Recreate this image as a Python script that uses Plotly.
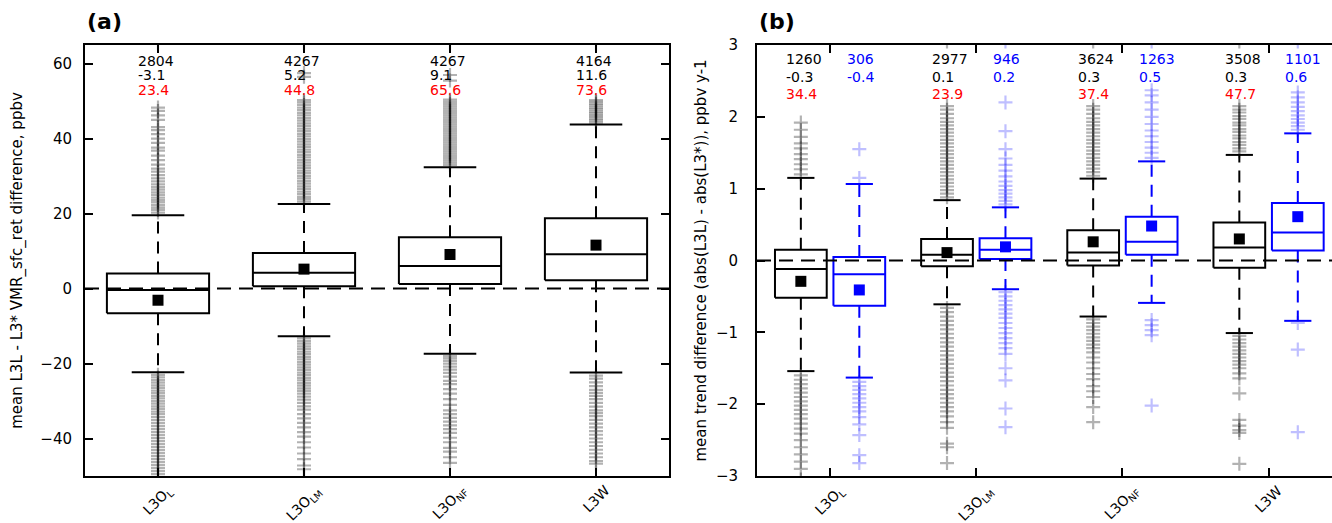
import plotly.graph_objects as go

# ---------------- data ----------------
categories = ["L3O<sub>L</sub>", "L3O<sub>LM</sub>", "L3O<sub>NF</sub>", "L3W"]
cat_pos = [1, 2, 3, 4]

# panel (a): L3L - L3* VMR_sfc_ret difference, ppbv
a_q1 = [-6.6, 0.6, 1.2, 2.2]
a_med = [-0.4, 4.2, 6.0, 9.2]
a_q3 = [4.0, 9.5, 13.7, 18.8]
a_lo = [-22.3, -12.7, -17.4, -22.4]
a_hi = [19.6, 22.6, 32.4, 43.8]
a_mean = [-3.1, 5.2, 9.1, 11.6]
a_n = [2804, 4267, 4267, 4164]
a_rms = [23.4, 44.8, 65.6, 73.6]
a_out_1 = [20.3, 21.0, 21.6, 22.3, 23.0, 23.6, 24.3, 25.0, 25.7, 26.4, 27.1, 27.8, 28.6, 29.4,
           30.3, 31.2, 32.0, 33.1, 34.3, 35.5, 36.8, 37.6, 38.9, 40.0, 41.2, 42.3, 43.1, 45.0,
           46.2, 47.4, 48.3, 65.5,
           -23.0, -23.7, -24.4, -25.1, -25.8, -26.5, -27.2, -27.9, -28.6, -29.3, -30.0, -30.7,
           -31.4, -32.1, -32.8, -33.5, -34.3, -35.1, -35.9, -36.7, -37.5, -38.3, -39.1, -39.9,
           -40.7, -41.5, -42.3, -43.1, -43.9, -44.7, -45.5, -46.3, -47.1, -47.9, -48.7, -49.5, -50.3]
a_out_2 = [23.2, 23.9, 24.5, 25.2, 25.9, 26.6, 27.3, 28.0, 28.7, 29.4, 30.1, 30.8, 31.5, 32.2,
           32.9, 33.6, 34.3, 35.0, 35.7, 36.4, 37.1, 37.8, 38.5, 39.2, 39.9, 40.6, 41.3, 42.0,
           42.7, 43.4, 44.1, 44.8, 45.5, 46.2, 46.9, 47.6, 48.3, 49.0, 49.7, 50.3, 56.5, 57.5, 65.5,
           -13.3, -14.0, -14.7, -15.4, -16.1, -16.8, -17.5, -18.2, -18.9, -19.6, -20.3, -21.0,
           -21.7, -22.4, -23.1, -23.8, -24.5, -25.2, -25.9, -26.6, -27.3, -28.0, -28.8, -29.6,
           -30.5, -31.4, -32.3, -33.5, -34.6, -35.8, -37.0, -38.3, -39.5, -41.0, -42.4, -44.0,
           -45.5, -47.2, -48.2, -50.3]
a_out_3 = [33.0, 33.6, 34.2, 34.8, 35.4, 36.0, 36.6, 37.2, 37.8, 38.4, 39.0, 39.6, 40.2, 40.8,
           41.4, 42.0, 42.6, 43.2, 43.8, 44.4, 45.0, 45.6, 46.2, 46.8, 47.4, 48.0, 48.6, 49.2,
           49.8, 50.4, 55.5, 57.0, 65.5,
           -18.0, -18.6, -19.3, -20.0, -20.8, -21.6, -22.5, -23.5, -24.6, -25.5, -26.8, -28.0,
           -29.5, -31.0, -32.5, -33.5, -34.5, -35.5, -36.5, -37.5, -38.5, -39.8, -41.0, -42.5,
           -43.5, -45.0, -46.5]
a_out_4 = [44.3, 44.8, 45.3, 45.8, 46.3, 46.8, 47.3, 47.8, 48.3, 48.8, 49.3, 49.8, 50.3, 65.5,
           -23.2, -24.0, -25.0, -26.0, -27.0, -27.8, -28.6, -29.5, -30.5, -31.5, -32.5, -33.2,
           -34.0, -35.0, -36.0, -37.0, -38.0, -39.0, -40.0, -41.0, -42.0, -43.0, -44.0, -45.0,
           -46.0, -46.7]
a_out = [a_out_1, a_out_2, a_out_3, a_out_4]

# panel (b): trend difference, black and blue groups
k_q1 = [-0.52, -0.08, -0.07, -0.10]
k_med = [-0.12, 0.08, 0.11, 0.18]
k_q3 = [0.15, 0.30, 0.42, 0.53]
k_lo = [-1.54, -0.61, -0.78, -1.01]
k_hi = [1.15, 0.84, 1.14, 1.47]
k_mean = [-0.29, 0.11, 0.26, 0.30]
k_n = [1260, 2977, 3624, 3508]
k_rms = [34.4, 23.9, 37.4, 47.7]

u_q1 = [-0.63, 0.02, 0.08, 0.14]
u_med = [-0.19, 0.15, 0.26, 0.39]
u_q3 = [0.05, 0.31, 0.61, 0.80]
u_lo = [-1.63, -0.40, -0.59, -0.84]
u_hi = [1.065, 0.74, 1.38, 1.77]
u_mean = [-0.41, 0.19, 0.48, 0.61]
u_n = [306, 946, 1263, 1101]

k_out_1 = [1.2, 1.27, 1.34, 1.41, 1.48, 1.56, 1.63, 1.72, 1.82, 1.92,
           -1.6, -1.66, -1.72, -1.78, -1.84, -1.9, -1.96, -2.02, -2.08, -2.14, -2.2, -2.27,
           -2.34, -2.41, -2.5, -2.6, -2.7, -2.8, -2.9, -3.05]
k_out_2 = [0.88, 0.93, 0.98, 1.03, 1.08, 1.13, 1.18, 1.23, 1.28, 1.33, 1.38, 1.43, 1.48, 1.53,
           1.58, 1.63, 1.68, 1.73, 1.78, 1.83, 1.88, 1.93, 1.98, 2.04, 2.1, 2.15, 3.05,
           -0.66, -0.72, -0.78, -0.84, -0.9, -0.96, -1.02, -1.08, -1.14, -1.2, -1.26, -1.32,
           -1.38, -1.44, -1.5, -1.56, -1.62, -1.68, -1.74, -1.8, -1.86, -1.92, -1.98, -2.04,
           -2.1, -2.17, -2.25, -2.33, -2.55, -2.6, -2.82]
k_out_3 = [1.18, 1.23, 1.28, 1.33, 1.38, 1.43, 1.48, 1.53, 1.58, 1.63, 1.68, 1.73, 1.78, 1.83,
           1.88, 1.93, 1.98, 2.04, 2.1, 2.15, 3.05,
           -0.82, -0.87, -0.92, -0.97, -1.02, -1.07, -1.12, -1.17, -1.22, -1.28, -1.35, -1.42,
           -1.5, -1.58, -1.65, -1.75, -1.82, -1.9, -2.04, -2.25]
k_out_4 = [1.52, 1.56, 1.61, 1.65, 1.7, 1.74, 1.79, 1.83, 1.88, 1.92, 1.97, 2.01, 2.06, 2.1,
           2.15, 3.05,
           -1.05, -1.1, -1.15, -1.2, -1.25, -1.3, -1.35, -1.4, -1.45, -1.5, -1.57, -1.64,
           -1.85, -2.22, -2.3, -2.36, -2.4, -2.83]
k_out = [k_out_1, k_out_2, k_out_3, k_out_4]

u_out_1 = [1.15, 1.55, -1.69, -1.75, -1.8, -1.86, -1.92, -1.98, -2.04, -2.1, -2.18, -2.28,
           -2.43, -2.71, -2.82]
u_out_2 = [0.78, 0.83, 0.88, 0.93, 0.98, 1.04, 1.1, 1.17, 1.25, 1.33, 1.42, 1.55, 1.8, 2.2, 3.05,
           -0.44, -0.5, -0.56, -0.62, -0.68, -0.74, -0.8, -0.87, -0.94, -1.01, -1.08, -1.15,
           -1.22, -1.3, -1.5, -1.67, -2.06, -2.32]
u_out_3 = [1.43, 1.5, 1.57, 1.65, 1.73, 1.81, 1.9, 2.0, 2.1, 2.2, 2.3, 2.37, 3.05,
           -0.83, -0.9, -0.97, -1.04, -2.02]
u_out_4 = [1.82, 1.87, 1.92, 1.97, 2.02, 2.08, 2.14, 2.2, 2.27, 2.34, 3.05, -0.87, -1.24, -2.39]
u_out = [u_out_1, u_out_2, u_out_3, u_out_4]

# ---------------- drawing ----------------
FONT = "DejaVu Sans"
BLUE = "#0000ff"
W, H = 1332, 523
fig = go.Figure()


def add_box(xa, ya, xc, hw, cw, q1, med, q3, lo, hi, mean, outliers, color, ocolor):
    ax = dict(xaxis=xa, yaxis=ya, showlegend=False, hoverinfo="skip")
    fig.add_trace(go.Scatter(x=[xc] * len(outliers), y=outliers, mode="markers",
                             marker=dict(symbol="cross-thin", size=10, color=ocolor,
                                         line=dict(width=2.2, color=ocolor)), **ax))
    fig.add_trace(go.Scatter(x=[xc, xc, None, xc, xc], y=[q3, hi, None, q1, lo], mode="lines",
                             line=dict(color=color, width=2, dash="12px,8px"), **ax))
    fig.add_trace(go.Scatter(x=[xc - cw, xc + cw, None, xc - cw, xc + cw], y=[hi, hi, None, lo, lo],
                             mode="lines", line=dict(color=color, width=2), **ax))
    fig.add_trace(go.Scatter(x=[xc - hw, xc + hw, xc + hw, xc - hw, xc - hw, None, xc - hw, xc + hw],
                             y=[q1, q1, q3, q3, q1, None, med, med], mode="lines",
                             line=dict(color=color, width=2), **ax))
    fig.add_trace(go.Scatter(x=[xc], y=[mean], mode="markers",
                             marker=dict(symbol="square", size=11, color=color), **ax))


annotations = []
for i, p in enumerate(cat_pos):
    add_box("x", "y", p, 0.35, 0.18, a_q1[i], a_med[i], a_q3[i], a_lo[i], a_hi[i], a_mean[i],
            a_out[i], "black", "rgba(0,0,0,0.3)")
    for txt, yv, col in [(str(a_n[i]), 60.8, "black"), ("%.1f" % a_mean[i], 57.0, "black"),
                         ("%.1f" % a_rms[i], 53.0, "red")]:
        annotations.append(dict(x=p - 0.15, y=yv, xref="x", yref="y", text=txt, showarrow=False,
                                xanchor="left", yanchor="middle", font=dict(size=14, color=col, family=FONT)))

for i, p in enumerate(cat_pos):
    add_box("x2", "y2", p - 0.2, 0.177, 0.093, k_q1[i], k_med[i], k_q3[i], k_lo[i], k_hi[i], k_mean[i],
            k_out[i], "black", "rgba(0,0,0,0.3)")
    add_box("x2", "y2", p + 0.2, 0.177, 0.093, u_q1[i], u_med[i], u_q3[i], u_lo[i], u_hi[i], u_mean[i],
            u_out[i], BLUE, "rgba(0,0,255,0.25)")
    for txt, yv, col in [(str(k_n[i]), 2.8, "black"), ("%.1f" % k_mean[i], 2.555, "black"),
                         ("%.1f" % k_rms[i], 2.315, "red")]:
        annotations.append(dict(x=p - 0.315, y=yv, xref="x2", yref="y2", text=txt, showarrow=False,
                                xanchor="left", yanchor="middle", font=dict(size=14, color=col, family=FONT)))
    for txt, yv in [(str(u_n[i]), 2.8), ("%.1f" % u_mean[i], 2.555)]:
        annotations.append(dict(x=p + 0.1, y=yv, xref="x2", yref="y2", text=txt, showarrow=False,
                                xanchor="left", yanchor="middle", font=dict(size=14, color=BLUE, family=FONT)))

# category labels, rotated 45 degrees and centred under each tick
for xr in ["x", "x2"]:
    for p, lab in zip(cat_pos, categories):
        annotations.append(dict(x=p, y=1 - 481 / H, xref=xr, yref="paper", text=lab, showarrow=False,
                                textangle=-45, xanchor="center", yanchor="top", borderpad=0,
                                font=dict(size=14, color="black", family=FONT)))

annotations.append(dict(x=85 / W, y=1 - 22 / H, xref="paper", yref="paper", text="<b>(a)</b>",
                        showarrow=False, xanchor="left", yanchor="middle",
                        font=dict(size=22, color="black", family=FONT)))
annotations.append(dict(x=757 / W, y=1 - 22 / H, xref="paper", yref="paper", text="<b>(b)</b>",
                        showarrow=False, xanchor="left", yanchor="middle",
                        font=dict(size=22, color="black", family=FONT)))

shapes = [
    dict(type="line", xref="x domain", yref="y", x0=0, x1=1, y0=0, y1=0,
         line=dict(color="black", width=2, dash="14px,8px")),
    dict(type="line", xref="x2 domain", yref="y2", x0=0, x1=1, y0=0, y1=0,
         line=dict(color="black", width=2, dash="14px,8px")),
]

common_x = dict(tickvals=cat_pos, ticktext=categories, showticklabels=False, ticks="inside", ticklen=8,
                tickwidth=1.5, tickcolor="black", showline=True, linewidth=2, linecolor="black",
                mirror="ticks", showgrid=False, zeroline=False, automargin=False)
common_y = dict(ticks="inside", ticklen=8, tickwidth=1.5, tickcolor="black", showline=True,
                linewidth=2, linecolor="black", showgrid=False, zeroline=False, automargin=False,
                tickfont=dict(size=15, color="black", family=FONT))

fig.update_layout(
    width=W, height=H, margin=dict(l=0, r=0, t=0, b=0),
    paper_bgcolor="white", plot_bgcolor="white",
    font=dict(family=FONT, color="black"),
    xaxis=dict(domain=[85 / W, 669 / W], range=[0.5, 4.5], anchor="y", **common_x),
    yaxis=dict(domain=[47 / H, 478 / H], range=[-50, 65], anchor="x", mirror="ticks",
               tickvals=[-40, -20, 0, 20, 40, 60], ticklabelstandoff=8,
               title=dict(text="mean L3L - L3* VMR_sfc_ret difference, ppbv",
                          font=dict(size=15, color="black", family=FONT), standoff=14),
               **common_y),
    xaxis2=dict(domain=[757 / W, 1.0], range=[0.5, 4.434], anchor="y2", **common_x),
    yaxis2=dict(domain=[47 / H, 478 / H], range=[-3, 3], anchor="x2", mirror=False,
                tickvals=[-3, -2, -1, 0, 1, 2, 3], ticklabelstandoff=14,
                title=dict(text="mean trend difference (abs(L3L) - abs(L3*)), ppbv y-1",
                           font=dict(size=15, color="black", family=FONT), standoff=6),
                **common_y),
    annotations=annotations,
    shapes=shapes,
)

fig.write_html("out.html", config={"displayModeBar": False},
               post_script="document.body.style.margin='0';")
